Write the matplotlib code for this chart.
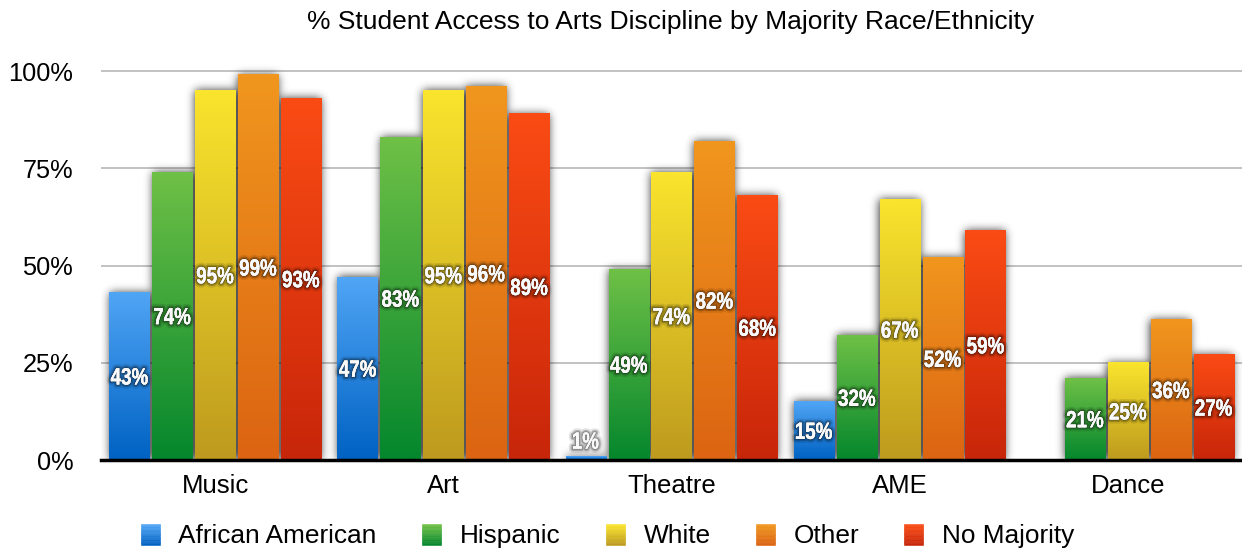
import numpy as np
import matplotlib
matplotlib.use('Agg')
import matplotlib.pyplot as plt
from matplotlib.patches import Rectangle, PathPatch
from matplotlib.legend_handler import HandlerBase
from matplotlib.textpath import TextPath
from matplotlib.font_manager import FontProperties
from matplotlib.transforms import Affine2D, ScaledTranslation
import matplotlib.patheffects as pe
from matplotlib.colors import to_rgb

# ---------------- data ----------------
title = "% Student Access to Arts Discipline by Majority Race/Ethnicity"
categories = ['Music', 'Art', 'Theatre', 'AME', 'Dance']
series_names = ['African American', 'Hispanic', 'White', 'Other', 'No Majority']
african_american = [43, 47, 1, 15, 0]
hispanic = [74, 83, 49, 32, 21]
white = [95, 95, 74, 67, 25]
other = [99, 96, 82, 52, 36]
no_majority = [93, 89, 68, 59, 27]
yticks = [0, 25, 50, 75, 100]
ytick_labels = ['0%', '25%', '50%', '75%', '100%']

series_values = [african_american, hispanic, white, other, no_majority]
colors_top = ['#50A5F5', '#6EC046', '#FAE42D', '#F0961E', '#FA4B14']
colors_bottom = ['#0062C3', '#05872D', '#BE9B1E', '#DC6412', '#C8260A']

plt.rcParams['font.family'] = ['Liberation Sans', 'DejaVu Sans']

W, H = 1242, 554
fig = plt.figure(figsize=(W / 100, H / 100), dpi=100)
ymax = 104
ax_left, ax_right, y0_px, y100_px = 101, 1242, 460, 71
ax = fig.add_axes([ax_left / W, (H - y0_px) / H, (ax_right - ax_left) / W,
                   (y0_px - y100_px) * ymax / 100 / H])

slot = 0.188
bar_w = 0.176
xs = np.arange(len(categories))
xlim = (-0.5, len(categories) - 0.5)

# ---------------- shadows (blurred mask in data space) ----------------
nx, ny = 1141, int(389 * ymax / 100)
gx = np.linspace(xlim[0], xlim[1], nx)
gy = np.linspace(0, ymax, ny)
mask = np.zeros((ny, nx))
for i, vals in enumerate(series_values):
    for j, v in enumerate(vals):
        if v <= 0:
            continue
        cx = xs[j] + (i - 2) * slot
        inx = (gx >= cx - bar_w / 2) & (gx <= cx + bar_w / 2)
        iny = gy <= v
        mask[np.ix_(iny, inx)] = 1.0

def blur(a, sigma):
    r = int(3 * sigma)
    k = np.exp(-0.5 * (np.arange(-r, r + 1) / sigma) ** 2)
    k /= k.sum()
    a = np.apply_along_axis(lambda m: np.convolve(m, k, mode='same'), 0, a)
    a = np.apply_along_axis(lambda m: np.convolve(m, k, mode='same'), 1, a)
    return a

sh = blur(mask, 4.5)
rgba = np.zeros((ny, nx, 4))
rgba[..., 3] = np.clip(sh * 0.8, 0, 0.8)
ax.imshow(rgba, extent=[xlim[0], xlim[1], 0, ymax], origin='lower',
          aspect='auto', zorder=2, interpolation='bilinear')

# ---------------- labels as condensed text paths ----------------
lab_fp = FontProperties(family='Liberation Sans', weight='bold')
lab_px = 23.5
lab_effects = [pe.withStroke(linewidth=6, foreground=(0, 0, 0, 0.10), joinstyle='round', capstyle='round'),
               pe.withStroke(linewidth=3.5, foreground=(0, 0, 0, 0.22), joinstyle='round', capstyle='round'),
               pe.withStroke(linewidth=1.5, foreground=(0, 0, 0, 0.25), joinstyle='round', capstyle='round'),
               pe.Normal()]

def add_label(x, y, s):
    tp = TextPath((0, 0), s, size=lab_px, prop=lab_fp)
    bb = tp.get_extents()
    cxp = (bb.x0 + bb.x1) / 2
    cyp = (bb.y0 + bb.y1) / 2
    tr = Affine2D().translate(-cxp, -cyp).scale(0.8, 1.0) + ScaledTranslation(x, y, ax.transData)
    p = PathPatch(tp, transform=tr, facecolor='#FAFAFA', edgecolor='none',
                  zorder=6, clip_on=False, path_effects=lab_effects)
    fig.add_artist(p)

# ---------------- gradient bars ----------------
for i, vals in enumerate(series_values):
    ct = np.array(to_rgb(colors_top[i]))
    cb = np.array(to_rgb(colors_bottom[i]))
    for j, v in enumerate(vals):
        if v <= 0:
            continue
        cx = xs[j] + (i - 2) * slot
        t = np.linspace(0, 1, 64)[:, None]
        grad = (ct * (1 - t) + cb * t)[:, None, :]
        ax.imshow(grad, extent=[cx - bar_w / 2, cx + bar_w / 2, 0, v],
                  origin='upper', aspect='auto', zorder=3, interpolation='bilinear')
        add_label(cx, max(v / 2, 5), f'{v}%')

ax.set_xlim(*xlim)
ax.set_ylim(0, ymax)

# ---------------- axes styling ----------------
ax.set_yticks(yticks)
ax.set_yticklabels(ytick_labels)
ax.set_xticks(xs)
ax.set_xticklabels(categories)
ax.yaxis.grid(True, color='#BDBDBD', lw=1.3)
ax.set_axisbelow(True)
for s in ['top', 'right', 'left']:
    ax.spines[s].set_visible(False)
ax.spines['bottom'].set_linewidth(2.5)
ax.spines['bottom'].set_color('black')
ax.spines['bottom'].set_zorder(7)
ax.tick_params(axis='y', length=0, pad=20, labelsize=18.3)
ax.tick_params(axis='x', length=0, pad=10, labelsize=18.5)

fig.text(671 / W, 1 - 22 / H, title, ha='center', va='center', fontsize=19)

# ---------------- legend ----------------
class GradHandler(HandlerBase):
    def __init__(self, top, bottom):
        super().__init__()
        self.top = np.array(to_rgb(top))
        self.bottom = np.array(to_rgb(bottom))

    def create_artists(self, legend, orig_handle, xdescent, ydescent,
                       width, height, fontsize, trans):
        n = 16
        arts = []
        for k in range(n):
            t = k / (n - 1)
            c = self.bottom * (1 - t) + self.top * t
            r = Rectangle((-xdescent, -ydescent + height * k / n), width,
                          height / n, facecolor=c, edgecolor=c, lw=0.4,
                          transform=trans)
            arts.append(r)
        return arts

handles = [Rectangle((0, 0), 1, 1) for _ in series_names]
hmap = {h: GradHandler(colors_top[i], colors_bottom[i]) for i, h in enumerate(handles)}
fs_leg = 18.9
px_per_em = fs_leg * 100 / 72
fig.legend(handles, series_names, handler_map=hmap, loc='center',
           bbox_to_anchor=(607.5 / W, 1 - 536 / H), ncol=5, frameon=False,
           fontsize=fs_leg, handlelength=19 / px_per_em, handleheight=22 / px_per_em,
           handletextpad=19 / px_per_em, columnspacing=45 / px_per_em, borderpad=0)

fig.savefig('out.png', dpi=100)
